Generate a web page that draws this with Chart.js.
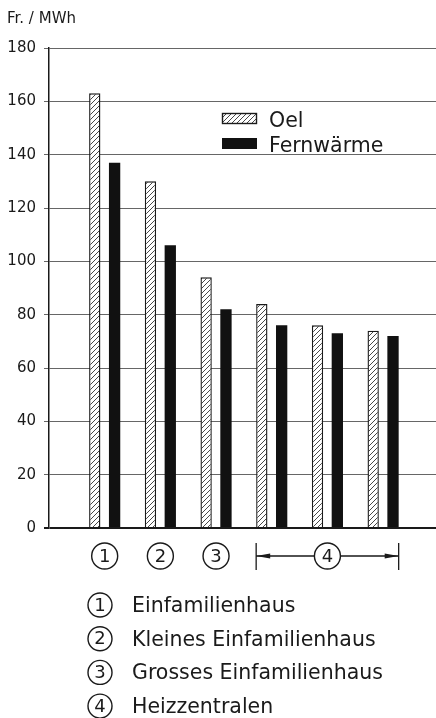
<!DOCTYPE html>
<html>
<head>
<meta charset="utf-8">
<script src="https://cdn.jsdelivr.net/npm/chart.js@4.4.1/dist/chart.umd.min.js"></script>
<style>
  html, body { margin: 0; padding: 0; background: #fff; }
  canvas { display: block; }
</style>
</head>
<body>
<canvas id="kostenChart" width="436" height="718"></canvas>
<script>
// Daten in Fr. / MWh
const gruppen = [1, 2, 3, 4, 4, 4]; // Kategorie-Nummer je Balkenpaar
const oel = [163, 130, 94, 84, 76, 74];
const fernwaerme = [137, 106, 82, 76, 73, 72];
const serienNamen = ['Oel', 'Fernwärme'];
const kategorienNamen = ['Einfamilienhaus', 'Kleines Einfamilienhaus', 'Grosses Einfamilienhaus', 'Heizzentralen'];
const yMax = 180;
const yStep = 20;
const einheit = 'Fr. / MWh';

const FONT = "'DejaVu Sans', sans-serif";
const INK = '#1a1a1a';

// Schraffur fuer die Oel-Balken
function makeHatch() {
    const c = document.createElement('canvas');
    c.width = 5;
    c.height = 5;
    const g = c.getContext('2d');
    g.fillStyle = '#fff';
    g.fillRect(0, 0, 5, 5);
    g.strokeStyle = '#333';
    g.lineWidth = 0.9;
    g.beginPath();
    g.moveTo(0, 5); g.lineTo(5, 0);
    g.moveTo(-1, 1); g.lineTo(1, -1);
    g.moveTo(4, 6); g.lineTo(6, 4);
    g.stroke();
    return g.createPattern(c, 'repeat');
}
const hatch = makeHatch();

// Nummer im Kreis
function kreisNummer(ctx, x, y, n, r) {
    ctx.beginPath();
    ctx.arc(x, y, r, 0, Math.PI * 2);
    ctx.lineWidth = 1.4;
    ctx.strokeStyle = INK;
    ctx.stroke();
    ctx.font = '18px ' + FONT;
    ctx.textAlign = 'center';
    ctx.textBaseline = 'middle';
    ctx.fillStyle = INK;
    ctx.fillText(String(n), x, y + 1);
}

function pfeil(ctx, tipX, y, dir) {
    ctx.beginPath();
    ctx.moveTo(tipX, y);
    ctx.lineTo(tipX + dir * 14, y - 2.5);
    ctx.lineTo(tipX + dir * 14, y + 2.5);
    ctx.closePath();
    ctx.fill();
}

// Legende, Achsenbeschriftung und Erklaerung
const beschriftung = {
    id: 'beschriftung',
    afterDraw(chart) {
        const ctx = chart.ctx;
        const area = chart.chartArea;
        const metaO = chart.getDatasetMeta(0);
        const metaF = chart.getDatasetMeta(1);
        ctx.save();

        // Legende
        const legY = [113, 138];
        chart.data.datasets.forEach((ds, i) => {
            ctx.fillStyle = ds.backgroundColor;
            ctx.fillRect(222, legY[i], 35, 11);
            if (ds.borderWidth) {
                ctx.lineWidth = 1.4;
                ctx.strokeStyle = INK;
                ctx.strokeRect(222.5, legY[i] + 0.5, 34, 10);
            }
            ctx.fillStyle = INK;
            ctx.font = '20.5px ' + FONT;
            ctx.textAlign = 'left';
            ctx.textBaseline = 'alphabetic';
            ctx.fillText(ds.label, 269, legY[i] + 13.5);
        });

        // Kategorien unter der Achse
        const yc = area.bottom + 28;
        const nummern = [...new Set(gruppen)];
        nummern.forEach(n => {
            const idx = gruppen.map((g, i) => g === n ? i : -1).filter(i => i >= 0);
            const first = idx[0];
            const last = idx[idx.length - 1];
            const left = metaO.data[first].x - metaO.data[first].width / 2;
            const right = metaF.data[last].x + metaF.data[last].width / 2;
            const mid = (left + right) / 2;
            const r = 13;
            if (idx.length > 1) {
                ctx.strokeStyle = INK;
                ctx.fillStyle = INK;
                ctx.lineWidth = 1.3;
                ctx.beginPath();
                ctx.moveTo(left, yc - 13); ctx.lineTo(left, yc + 14);
                ctx.moveTo(right, yc - 13); ctx.lineTo(right, yc + 14);
                ctx.moveTo(left, yc); ctx.lineTo(mid - r, yc);
                ctx.moveTo(mid + r, yc); ctx.lineTo(right, yc);
                ctx.stroke();
                pfeil(ctx, left, yc, 1);
                pfeil(ctx, right, yc, -1);
            }
            kreisNummer(ctx, mid, yc, n, r);
        });

        // Erklaerung der Nummern
        kategorienNamen.forEach((name, i) => {
            const base = 612 + i * 33.7;
            kreisNummer(ctx, 100, base - 7, i + 1, 12);
            ctx.fillStyle = INK;
            ctx.font = '20.5px ' + FONT;
            ctx.textAlign = 'left';
            ctx.textBaseline = 'alphabetic';
            ctx.fillText(name, 132, base);
        });

        ctx.restore();
    }
};

const ctx = document.getElementById('kostenChart').getContext('2d');
new Chart(ctx, {
    type: 'bar',
    data: {
        datasets: [{
            label: serienNamen[0],
            data: oel.map((v, i) => ({ x: i + 1, y: v })),
            backgroundColor: hatch,
            borderColor: INK,
            borderWidth: 1.4,
            borderSkipped: 'bottom'
        }, {
            label: serienNamen[1],
            data: fernwaerme.map((v, i) => ({ x: i + 1, y: v })),
            backgroundColor: '#111',
            borderWidth: 0
        }]
    },
    options: {
        responsive: false,
        animation: false,
        devicePixelRatio: 1,
        categoryPercentage: 0.75,
        barPercentage: 0.57,
        layout: { padding: { left: 7, right: 0, top: 0, bottom: 190 } },
        scales: {
            x: {
                type: 'linear',
                display: false,
                offset: false,
                min: 0,
                max: 6.95
            },
            y: {
                min: 0,
                max: yMax,
                afterFit: s => { s.width = 42; },
                border: { display: true, color: INK, width: 1.5 },
                grid: {
                    color: ctx => ctx.tick && ctx.tick.value === 0 ? INK : '#666',
                    lineWidth: ctx => ctx.tick && ctx.tick.value === 0 ? 2 : 1,
                    tickLength: 5
                },
                ticks: {
                    stepSize: yStep,
                    padding: 8,
                    color: INK,
                    font: { family: FONT, size: 15 }
                }
            }
        },
        plugins: {
            legend: { display: false },
            tooltip: { enabled: false },
            title: {
                display: true,
                text: einheit,
                align: 'start',
                color: INK,
                font: { family: FONT, size: 15, weight: 'normal' },
                padding: { top: 10, bottom: 20 }
            }
        }
    },
    plugins: [beschriftung]
});
</script>
</body>
</html>
